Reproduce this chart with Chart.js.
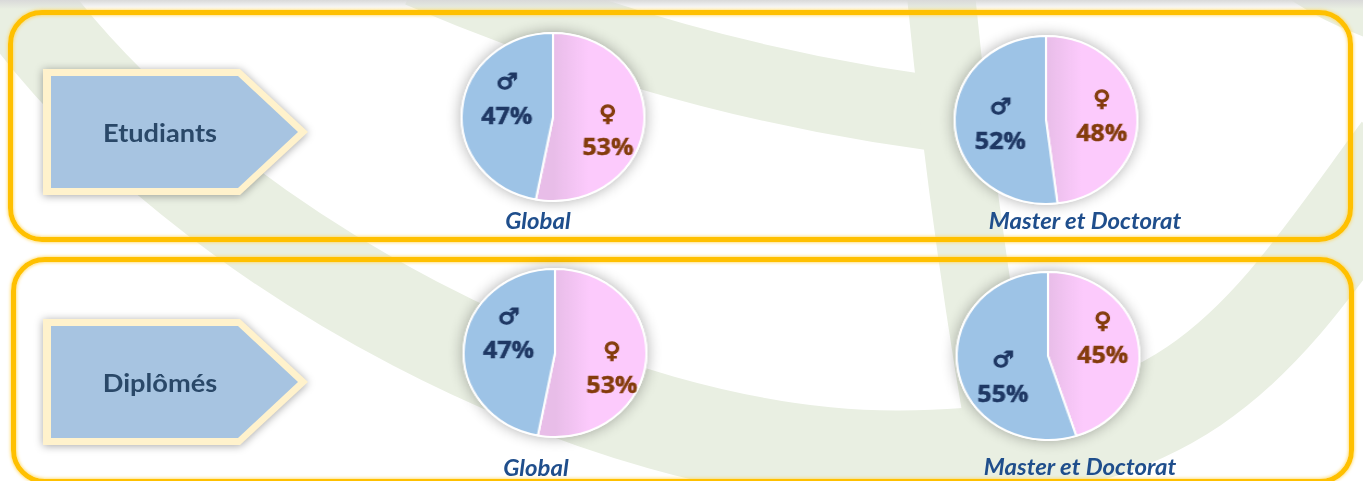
<!DOCTYPE html>
<html lang="fr">
<head>
<meta charset="utf-8">
<title>Etudiants et diplômés par genre</title>
<script src="https://cdn.jsdelivr.net/npm/chart.js@4.4.1/dist/chart.umd.min.js"></script>
<style>
html,body{margin:0;padding:0;background:#fff;}
#page{position:relative;width:1363px;height:481px;overflow:hidden;background:#fff;font-family:Lato,"Noto Sans",sans-serif;}
#fond{position:absolute;left:0;top:0;}
.ombre-haut{position:absolute;left:0;top:0;width:1363px;height:9px;background:linear-gradient(#d9d9d9,rgba(255,255,255,0));}
.cadre{position:absolute;box-sizing:border-box;border:5px solid #FFC000;border-radius:34px;
  box-shadow:0 0 3px 1px rgba(255,214,90,.7), inset 0 0 3px 1px rgba(255,214,90,.7);}
.fleche{position:absolute;width:265px;height:126px;filter:drop-shadow(0 1px 4px rgba(0,0,0,.35));}
.fleche .bord{position:absolute;left:0;top:0;width:265px;height:126px;background:#FFF2CC;
  clip-path:polygon(0 0,197px 0,265px 63px,197px 126px,0 126px);}
.fleche .corps{position:absolute;left:8px;top:7px;width:247px;height:112px;background:#A7C4E1;
  clip-path:polygon(0 0,187px 0,247px 56px,187px 112px,0 112px);}
.fleche span{position:absolute;left:0;top:0;width:234px;height:126px;line-height:126px;text-align:center;
  font-weight:bold;font-size:25px;color:#2A4868;transform:scaleX(1.088);}
.camembert{position:absolute;width:210px;height:210px;transform:scaleX(1.088);}
.legende{position:absolute;font-style:italic;font-weight:bold;font-size:22px;line-height:22px;color:#1F4E8C;
  white-space:nowrap;transform:translateX(-50%) scaleX(1.088);}
</style>
</head>
<body>
<div id="page">
  <svg id="fond" width="1363" height="481">
    <g fill="none" stroke="#E9EFE2">
      <path d="M -17 -50 L 19 0 C 200 250, 600 460, 900 458 S 1260 340, 1400 150" stroke-width="95"/>
      <path d="M 420 -30 Q 700 90 990 120" stroke-width="75"/>
      <path d="M 941 -5 Q 965 240 1010 490" stroke-width="68"/>
      <path d="M 1290 -25 Q 1330 5 1390 25" stroke-width="40"/>
    </g>
  </svg>
  <div class="ombre-haut"></div>

  <div class="cadre" style="left:8px;top:10px;width:1345px;height:232px;"></div>
  <div class="cadre" style="left:11px;top:257px;width:1343px;height:227px;"></div>

  <div class="fleche" style="left:43px;top:69px;"><div class="bord"></div><div class="corps"></div><span>Etudiants</span></div>
  <div class="fleche" style="left:43px;top:319px;"><div class="bord"></div><div class="corps"></div><span>Diplômés</span></div>

  <div class="camembert" style="left:448px;top:12px;"><canvas id="etuGlobal" width="210" height="210"></canvas></div>
  <div class="camembert" style="left:941px;top:15px;"><canvas id="etuMaster" width="210" height="210"></canvas></div>
  <div class="camembert" style="left:450px;top:248px;"><canvas id="dipGlobal" width="210" height="210"></canvas></div>
  <div class="camembert" style="left:943px;top:251px;"><canvas id="dipMaster" width="210" height="210"></canvas></div>

  <div class="legende" id="leg1" style="left:538px;top:210px;"></div>
  <div class="legende" id="leg2" style="left:1085px;top:210px;"></div>
  <div class="legende" id="leg3" style="left:536px;top:457px;"></div>
  <div class="legende" id="leg4" style="left:1080px;top:456px;"></div>
</div>

<script>
// valeurs (en %), femmes d'abord puis hommes
const genres = ['Femmes', 'Hommes'];
const symboles = ['♀', '♂'];
const etudiantsGlobal = [53, 47];
const etudiantsMaster = [48, 52];
const diplomesGlobal = [53, 47];
const diplomesMaster = [45, 55];
const legendes = ['Global', 'Master et Doctorat', 'Global', 'Master et Doctorat'];

const couleursTexte = ['#843C0C', '#1F3864'];

// ombre grise douce sous le disque
const ombrePlugin = {
  id: 'ombre',
  beforeDatasetsDraw(chart) {
    const arc = chart.getDatasetMeta(0).data[0];
    if (!arc) return;
    const ctx = chart.ctx;
    ctx.save();
    ctx.shadowColor = 'rgba(0,0,0,0.32)';
    ctx.shadowBlur = 14;
    ctx.fillStyle = '#fff';
    ctx.beginPath();
    ctx.arc(arc.x, arc.y, arc.outerRadius + 1, 0, Math.PI * 2);
    ctx.fill();
    ctx.restore();
  }
};

// symbole + pourcentage dans chaque part
const etiquettesPlugin = {
  id: 'etiquettes',
  afterDatasetsDraw(chart, args, opts) {
    const ctx = chart.ctx;
    const valeurs = chart.data.datasets[0].data;
    chart.getDatasetMeta(0).data.forEach((arc, i) => {
      const p = arc.tooltipPosition();
      const d = opts.decalages[i];
      const x = p.x + d[0], y = p.y + d[1];
      ctx.save();
      ctx.fillStyle = couleursTexte[i];
      ctx.strokeStyle = couleursTexte[i];
      ctx.textAlign = 'center';
      ctx.textBaseline = 'middle';
      ctx.font = "bold 22px 'DejaVu Sans'";
      ctx.lineWidth = 1.2;
      ctx.fillText(chart.data.labels[i], x, y - 17);
      ctx.strokeText(chart.data.labels[i], x, y - 17);
      ctx.font = "bold 23px 'Open Sans'";
      ctx.lineWidth = 0.5;
      ctx.fillText(valeurs[i] + '%', x, y + 17);
      ctx.strokeText(valeurs[i] + '%', x, y + 17);
      ctx.restore();
    });
  }
};

function couleurPart(c) {
  if (c.dataIndex === 1) return '#9DC3E6';
  const ca = c.chart.chartArea;
  if (!ca) return '#FCCAFC';
  const cx = (ca.left + ca.right) / 2;
  const g = c.chart.ctx.createLinearGradient(cx, 0, cx + 32, 0);
  g.addColorStop(0, '#E8BDE8');
  g.addColorStop(1, '#FCCAFC');
  return g;
}

function camembert(id, valeurs, decalages) {
  return new Chart(document.getElementById(id), {
    type: 'pie',
    data: {
      labels: symboles,
      datasets: [{
        label: genres.join(' / '),
        data: valeurs,
        backgroundColor: couleurPart,
        borderColor: '#FFFFFF',
        borderWidth: 2
      }]
    },
    options: {
      responsive: false,
      animation: false,
      devicePixelRatio: 1,
      layout: {padding: 20},
      plugins: {
        legend: {display: false},
        tooltip: {enabled: false},
        etiquettes: {decalages: decalages}
      }
    },
    plugins: [ombrePlugin, etiquettesPlugin]
  });
}

camembert('etuGlobal', etudiantsGlobal, [[8.6, 11], [-0.7, -12.4]]);
camembert('etuMaster', etudiantsMaster, [[9.3, 0], [0, 2.4]]);
camembert('dipGlobal', diplomesGlobal, [[10.5, 12.4], [-0.9, -14.2]]);
camembert('dipMaster', diplomesMaster, [[8.8, -9.9], [0, 16]]);

legendes.forEach((t, i) => { document.getElementById('leg' + (i + 1)).textContent = t; });
</script>
</body>
</html>
